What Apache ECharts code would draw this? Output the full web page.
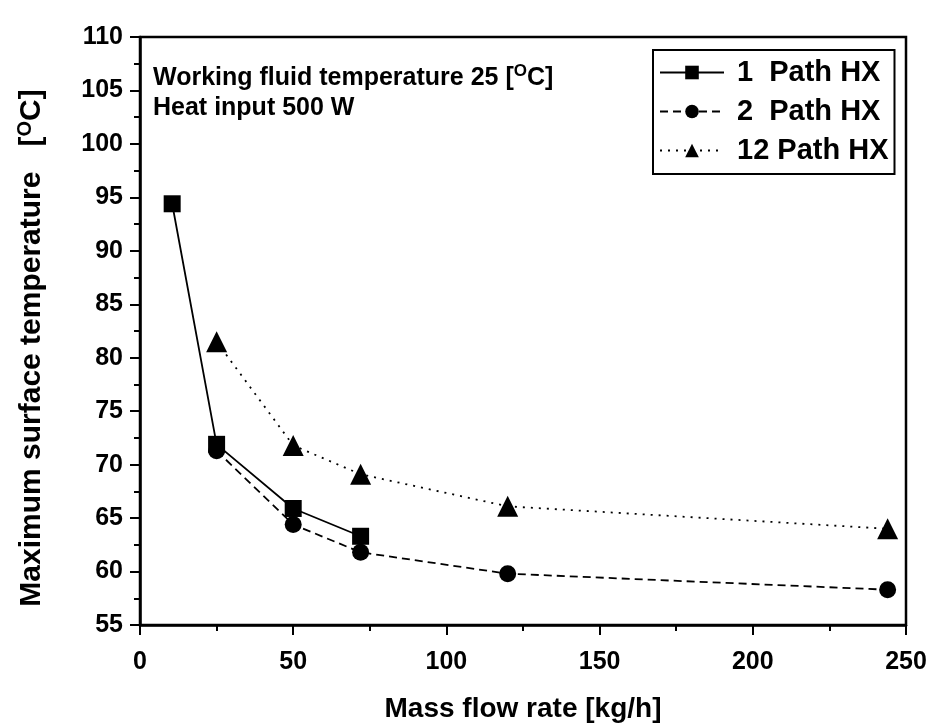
<!DOCTYPE html>
<html>
<head>
<meta charset="utf-8">
<script src="https://cdn.jsdelivr.net/npm/echarts@6/dist/echarts.min.js"></script>
<style>
  html, body { margin: 0; padding: 0; background: #fff; }
  #grafico { width: 930px; height: 728px; }
</style>
</head>
<body>
<div id="grafico"></div>
<script>
// dados
const vazao1 = [10.5, 25, 50, 72]
const temp1 = [94.4, 71.9, 65.9, 63.3]
const vazao2 = [25, 50, 72, 120, 244]
const temp2 = [71.3, 64.4, 61.8, 59.8, 58.3]
const vazao12 = [25, 50, 72, 120, 244]
const temp12 = [81.5, 71.8, 69.1, 66.1, 64.0]
const nomes = ["1  Path HX", "2  Path HX", "12 Path HX"]

const fonte = "Liberation Sans, Arial, sans-serif"
const pares = (xs, ys) => xs.map((x, i) => [x, ys[i]])

let myChart = echarts.init(document.getElementById("grafico"))

let option = {
  animation: false,
  backgroundColor: "#fff",
  title: {
    text: "Working fluid temperature 25 [{sup|O}C]\nHeat input 500 W",
    left: 148,
    top: 58,
    textStyle: {
      fontFamily: fonte,
      fontWeight: "bold",
      fontSize: 25,
      color: "#000",
      lineHeight: 30,
      rich: {
        sup: { fontFamily: fonte, fontWeight: "bold", fontSize: 17, color: "#000", verticalAlign: "top", padding: [0, 0, 12, 0] }
      }
    }
  },
  // titulo do eixo Y (um pouco abaixo do centro, como no original)
  graphic: [
    {
      type: "text",
      x: 32,
      y: 348,
      rotation: Math.PI / 2,
      style: {
        text: "Maximum surface temperature   [{sup|O}C]",
        font: "bold 30px " + fonte,
        fill: "#000",
        align: "center",
        verticalAlign: "middle",
        rich: {
          sup: { fontFamily: fonte, fontWeight: "bold", fontSize: 20, fill: "#000", verticalAlign: "top", padding: [0, 0, 14, 0] }
        }
      }
    }
  ],
  legend: {
    orient: "vertical",
    left: 653,
    top: 50,
    itemWidth: 64,
    itemHeight: 17,
    itemGap: 10,
    padding: [8, 6, 9, 6],
    borderColor: "#000",
    borderWidth: 2,
    borderRadius: 0,
    backgroundColor: "#fff",
    textStyle: { fontFamily: fonte, fontWeight: "bold", fontSize: 29, color: "#000", padding: [0, 0, 0, 8] },
    data: nomes
  },
  grid: {
    left: 140,
    right: 24,
    top: 37,
    bottom: 103,
    show: true,
    borderColor: "#000",
    borderWidth: 2.5,
    containLabel: false
  },
  xAxis: {
    type: "value",
    min: 0,
    max: 250,
    interval: 50,
    name: "Mass flow rate [kg/h]",
    nameLocation: "middle",
    nameGap: 70,
    nameTextStyle: { fontFamily: fonte, fontWeight: "bold", fontSize: 28, color: "#000" },
    axisLine: { lineStyle: { color: "#000", width: 2.5 } },
    axisTick: { inside: false, length: 10, lineStyle: { color: "#000", width: 2 } },
    minorTick: { show: true, splitNumber: 2, length: 6, lineStyle: { color: "#000", width: 2 } },
    axisLabel: { fontFamily: fonte, fontWeight: "bold", fontSize: 25, color: "#000", margin: 25 },
    splitLine: { show: false }
  },
  yAxis: {
    type: "value",
    min: 55,
    max: 110,
    interval: 5,
    axisLine: { lineStyle: { color: "#000", width: 2.5 } },
    axisTick: { inside: false, length: 10, lineStyle: { color: "#000", width: 2 } },
    minorTick: { show: true, splitNumber: 2, length: 6, lineStyle: { color: "#000", width: 2 } },
    axisLabel: { fontFamily: fonte, fontWeight: "bold", fontSize: 25, color: "#000", margin: 17 },
    splitLine: { show: false }
  },
  series: [
    {
      name: nomes[0],
      type: "line",
      data: pares(vazao1, temp1),
      symbol: "rect",
      symbolSize: 17,
      color: "#000",
      lineStyle: { color: "#000", width: 1.8, type: "solid" },
      itemStyle: { color: "#000" }
    },
    {
      name: nomes[1],
      type: "line",
      data: pares(vazao2, temp2),
      symbol: "circle",
      symbolSize: 17,
      color: "#000",
      lineStyle: { color: "#000", width: 1.8, type: [8, 5] },
      itemStyle: { color: "#000" }
    },
    {
      name: nomes[2],
      type: "line",
      data: pares(vazao12, temp12),
      symbol: "triangle",
      symbolSize: 21,
      color: "#000",
      lineStyle: { color: "#000", width: 1.8, type: [2, 6] },
      itemStyle: { color: "#000" }
    }
  ]
}

option && myChart.setOption(option)
</script>
</body>
</html>
